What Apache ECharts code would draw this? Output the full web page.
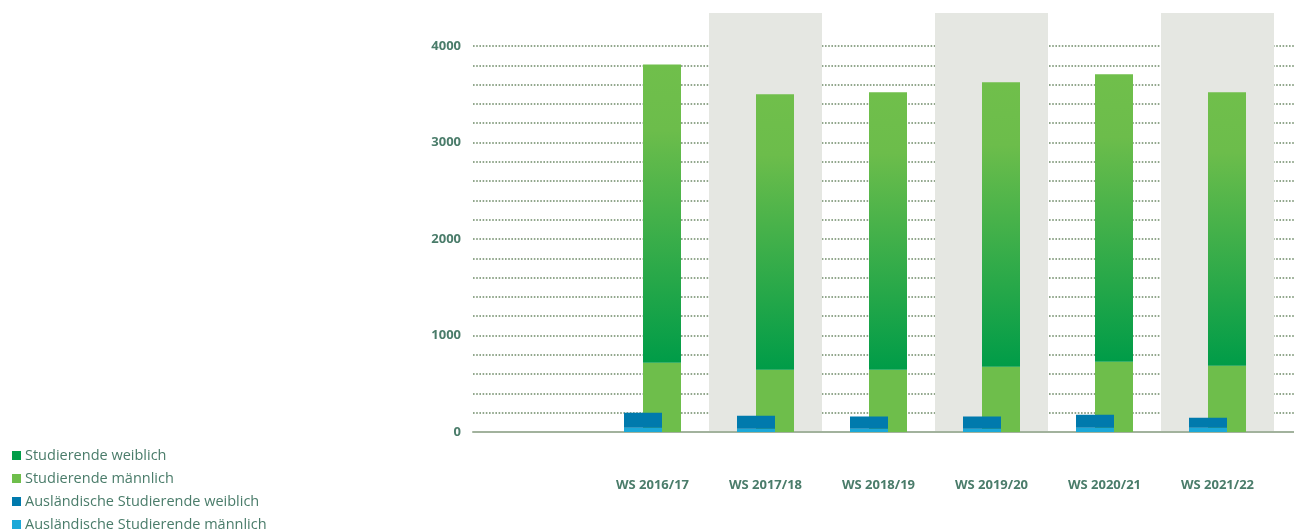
<!DOCTYPE html>
<html>
<head>
<meta charset="utf-8">
<script src="https://cdn.jsdelivr.net/npm/echarts@6/dist/echarts.min.js"></script>
<style>
html,body{margin:0;padding:0;background:#fff;}
#c{width:1294px;height:531px;}
</style>
</head>
<body>
<div id="c"></div>
<script>
const categories = ['WS 2016/17','WS 2017/18','WS 2018/19','WS 2019/20','WS 2020/21','WS 2021/22'];
// total height of the green column (top of the gradient segment)
const studierendeGesamt = [3807, 3500, 3521, 3625, 3707, 3521];
// lower light-green segment
const studierendeLower = [717, 644, 646, 676, 728, 686];
// foreign students: lower (light blue) segment and total height
const auslLower = [44, 34, 34, 34, 44, 44];
const auslGesamt = [200, 169, 160, 160, 180, 148];
const yTicks = [0, 1000, 2000, 3000, 4000];

const studierendeUpper = studierendeGesamt.map((v, i) => v - studierendeLower[i]);
const auslUpper = auslGesamt.map((v, i) => v - auslLower[i]);

const textColor = '#4a7c6a';
const font = '"Open Sans", sans-serif';
const names = ['Studierende weiblich','Studierende männlich','Ausländische Studierende weiblich','Ausländische Studierende männlich'];
const colors = ['#009e49','#6ebe4b','#007aad','#1ba8d8'];

const gradient = new echarts.graphic.LinearGradient(0, 0, 0, 1, [
  {offset: 0, color: '#70bf4b'},
  {offset: 0.22, color: '#6cbd4b'},
  {offset: 1, color: '#009c48'}
]);

const gridBottom = 99;
const chart = echarts.init(document.getElementById('c'), null, {renderer: 'canvas'});
chart.setOption({
  animation: false,
  backgroundColor: '#ffffff',
  legend: {
    orient: 'vertical', left: 12, top: 448, height: 120, padding: 0,
    itemWidth: 9, itemHeight: 9, itemGap: 8,
    icon: 'rect',
    textStyle: {color: textColor, fontFamily: font, fontSize: 14.5, lineHeight: 14, padding: [0,0,0,-1]},
    data: names.map((n, i) => ({name: n, itemStyle: {color: colors[i]}}))
  },
  grid: [
    {left: 596, right: 20, top: 13, bottom: gridBottom},
    {left: 473, right: 0, top: 46, bottom: gridBottom}
  ],
  xAxis: [
    {
      type: 'category', gridIndex: 0, data: categories,
      axisLine: {show: false}, axisTick: {show: false},
      axisLabel: {color: textColor, fontFamily: font, fontWeight: 'bold', fontSize: 13, margin: 47},
      splitArea: {show: true, areaStyle: {color: ['rgba(0,0,0,0)', '#e5e7e2']}}
    },
    {
      type: 'value', gridIndex: 1, min: 0, max: 1,
      axisLine: {show: true, lineStyle: {color: '#a2b29d', width: 2}},
      axisTick: {show: false}, axisLabel: {show: false}, splitLine: {show: false}
    }
  ],
  yAxis: [
    {
      type: 'value', gridIndex: 0, min: 0, max: 4000 * (531 - gridBottom - 13) / (531 - gridBottom - 46),
      axisLine: {show: false}, axisTick: {show: false}, axisLabel: {show: false}, splitLine: {show: false}
    },
    {
      type: 'value', gridIndex: 1, min: 0, max: 4000, interval: 200,
      axisLine: {show: false}, axisTick: {show: false},
      axisLabel: {
        color: textColor, fontFamily: font, fontWeight: 'bold', fontSize: 13, margin: 12,
        formatter: v => yTicks.includes(v) ? String(v) : ''
      },
      splitLine: {show: true, lineStyle: {color: '#92a78d', width: 2, type: [1.6, 1.6]}}
    }
  ],
  series: [
    {
      name: names[3], type: 'bar', stack: 'ausl', xAxisIndex: 0, yAxisIndex: 0,
      data: auslLower, barWidth: 38, z: 3, itemStyle: {color: colors[3]}
    },
    {
      name: names[2], type: 'bar', stack: 'ausl', xAxisIndex: 0, yAxisIndex: 0,
      data: auslUpper, barWidth: 38, z: 3, itemStyle: {color: colors[2]}
    },
    {
      name: names[1], type: 'bar', stack: 'stud', xAxisIndex: 0, yAxisIndex: 0,
      data: studierendeLower, barWidth: 38, itemStyle: {color: colors[1]}
    },
    {
      name: names[0], type: 'bar', stack: 'stud', xAxisIndex: 0, yAxisIndex: 0,
      data: studierendeUpper, barWidth: 38, barGap: '-50%', itemStyle: {color: gradient}
    }
  ]
});
</script>
</body>
</html>
